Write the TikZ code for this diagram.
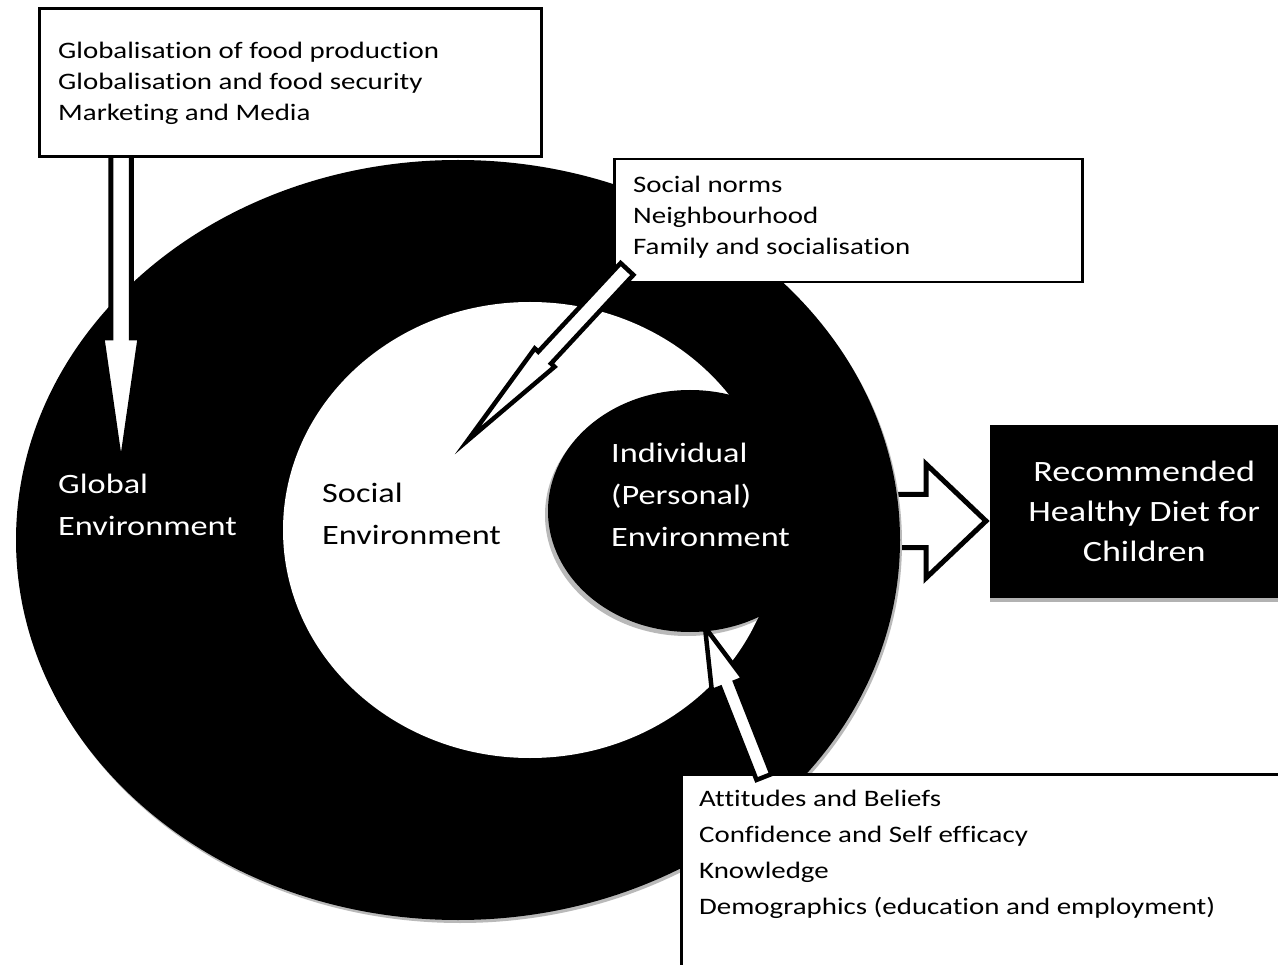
\documentclass[tikz,border=0pt]{standalone}
\usepackage{fontspec}
\newfontfamily\calf[FakeStretch=1.225,Ligatures=NoCommon]{Carlito}
\newcommand\blockarr[4]{(0,-#3) -- (#2,-#3) -- (#2,-#4) -- (#1,0) -- (#2,#4) -- (#2,#3) -- (0,#3) -- cycle}
\tikzset{
  arrowline/.style={draw=black, fill=white, line width=5pt, line join=miter, miter limit=30},
  smalltext/.style={font=\calf\fontsize{23.6}{31}\selectfont, align=left, inner sep=0pt, anchor=west},
  bigtext/.style={font=\calf\fontsize{28}{42}\selectfont, align=left, inner sep=0pt, anchor=west},
  boxline/.style={draw=black, fill=white, anchor=north west, inner sep=0pt},
}
\begin{document}
\begin{tikzpicture}[x=1pt,y=-1pt]
\useasboundingbox[fill=white] (0,0) rectangle (1278,965);
\clip (0,0) rectangle (1278,965);
% arrow towards the outcome box (drawn below the ring)
\begin{scope}[shift={(880,521)}]
  \draw[arrowline] \blockarr{106}{46}{26.5}{57};
\end{scope}
% global ring
\fill[gray!55] (460,543) ellipse [x radius=442, y radius=380];
\fill[black] (458,540) ellipse [x radius=442, y radius=380];
% social area
\fill[white] (530,530) ellipse [x radius=247, y radius=228];
% individual circle with its shadow on the social area
\begin{scope}
  \clip (530,530) ellipse [x radius=247, y radius=228];
  \fill[gray!55] (687,515) ellipse [x radius=142, y radius=121];
\end{scope}
\fill[black] (690,511) ellipse [x radius=142, y radius=121];
% global arrow
\begin{scope}[shift={(121,152)}, rotate=-90]
  \draw[arrowline] \blockarr{318}{186}{10.25}{19};
\end{scope}
% global box
\node[boxline, line width=3pt, minimum width=502pt, minimum height=148pt] (gbox) at (38,7) {};
\node[smalltext] (gtext) at (58,83)
  {Globalisation of food production\\Globalisation and food security\\Marketing and Media};
% social box
\node[boxline, line width=2.5pt, minimum width=468pt, minimum height=123pt] (sbox) at (613,158) {};
\node[smalltext] (stext) at (633,217)
  {Social norms\\Neighbourhood\\Family and socialisation};
\begin{scope}[shift={(627,269)}, rotate=227.1]
  \draw[arrowline, line width=4.5pt] \blockarr{234}{121}{8.7}{13.5};
\end{scope}
% individual box
\node[boxline, line width=2.5pt, minimum width=620pt, minimum height=220pt] (ibox) at (680,773) {};
\node[smalltext, font=\calf\fontsize{23.6}{36}\selectfont] (itext) at (699,854)
  {Attitudes and Beliefs\\Confidence and Self efficacy\\Knowledge\\Demographics (education and employment)};
\begin{scope}[shift={(764,777)}, rotate=111.5]
  \draw[arrowline, line width=4.5pt] \blockarr{161}{99}{8}{17};
\end{scope}
% outcome box
\fill[gray!60] (990,428) rectangle (1290,602);
\node[fill=black, anchor=north west, minimum width=308pt, minimum height=173pt, inner sep=0pt,
      text=white, align=center, font=\calf\fontsize{29.5}{40}\selectfont] (rbox) at (990,425)
  {Recommended\\Healthy Diet for\\Children};
% labels
\node[bigtext, text=white] (glab) at (58,505) {Global\\Environment};
\node[bigtext, text=black] (slab) at (322,514) {Social\\Environment};
\node[bigtext, text=white] (ilab) at (611,495) {Individual\\(Personal)\\Environment};
\end{tikzpicture}
\end{document}
